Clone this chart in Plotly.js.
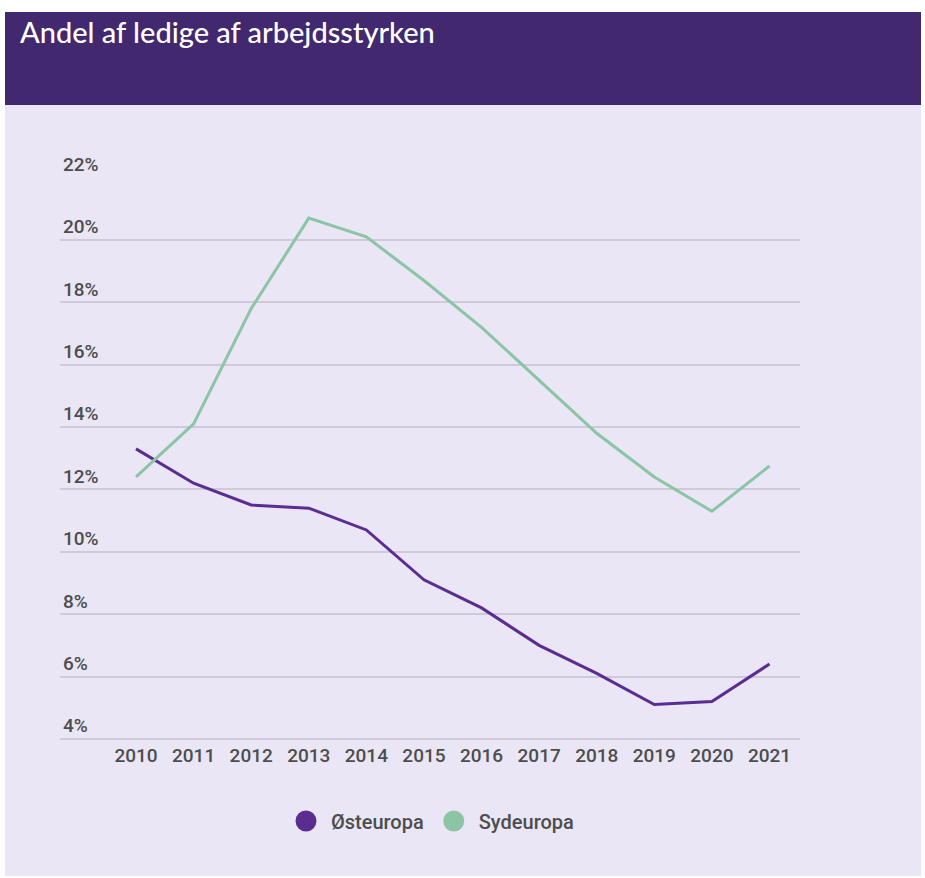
<!DOCTYPE html>
<html>
<head>
<meta charset="utf-8">
<script src="https://cdn.plot.ly/plotly-3.0.1.min.js"></script>
<style>
  html, body { margin: 0; padding: 0; background: #ffffff; }
  #chart { width: 925px; height: 878px; }
</style>
</head>
<body>
<div id="chart"></div>
<script>
// ---- Data ----
const years = [2010, 2011, 2012, 2013, 2014, 2015, 2016, 2017, 2018, 2019, 2020, 2021];
const ostEuropa = [13.3, 12.2, 11.5, 11.4, 10.7, 9.1, 8.2, 7.0, 6.1, 5.1, 5.2, 6.4];
const sydEuropa = [12.4, 14.1, 17.8, 20.7, 20.1, 18.7, 17.2, 15.5, 13.8, 12.4, 11.3, 12.75];
const seriesNames = ['Østeuropa', 'Sydeuropa'];
const yTickVals = [4, 6, 8, 10, 12, 14, 16, 18, 20, 22];
const yTickText = ['4%', '6%', '8%', '10%', '12%', '14%', '16%', '18%', '20%', '22%'];
const titleText = 'Andel af ledige af arbejdsstyrken';

// ---- Styles ----
const colPurple = '#5b2d90';
const colGreen = '#8cc5a5';
const textCol = '#4d4d4d';
const W = 925, H = 878;
const M = { l: 60, r: 125, t: 177, b: 136 };
const pw = W - M.l - M.r, ph = H - M.t - M.b;
const px = v => (v - M.l) / pw;
const py = v => (H - M.b - v) / ph;
const tickFont = { family: 'Roboto, sans-serif', size: 19, color: textCol, weight: 500 };

const traces = [
  { x: years, y: ostEuropa, name: seriesNames[0], type: 'scatter', mode: 'lines',
    line: { color: colPurple, width: 3 }, showlegend: false },
  { x: years, y: sydEuropa, name: seriesNames[1], type: 'scatter', mode: 'lines',
    line: { color: colGreen, width: 3 }, showlegend: false },
  { x: [null], y: [null], name: seriesNames[0], type: 'scatter', mode: 'markers',
    marker: { color: colPurple, size: 16, line: { color: colPurple, width: 5 } }, showlegend: true },
  { x: [null], y: [null], name: seriesNames[1], type: 'scatter', mode: 'markers',
    marker: { color: colGreen, size: 16, line: { color: colGreen, width: 5 } }, showlegend: true }
];

const layout = {
  width: W, height: H,
  margin: M,
  paper_bgcolor: '#ffffff',
  plot_bgcolor: 'rgba(0,0,0,0)',
  font: tickFont,
  title: {
    text: titleText,
    font: { family: 'Lato, sans-serif', size: 29, color: '#ffffff' },
    xref: 'container', x: 20 / W, xanchor: 'left',
    yref: 'container', y: 1 - 33 / H, yanchor: 'middle'
  },
  xaxis: {
    range: [2008.68, 2021.53],
    tickmode: 'array', tickvals: years, ticktext: years.map(String),
    showgrid: false, zeroline: false, showline: false, ticks: '',
    tickfont: tickFont,
    fixedrange: true
  },
  yaxis: {
    range: [3.9, 22.02],
    tickmode: 'array', tickvals: yTickVals, ticktext: yTickText,
    ticklabelposition: 'inside top', ticklabeloverflow: 'allow',
    showgrid: true, gridcolor: '#cfc9da', gridwidth: 2,
    zeroline: false, showline: false, ticks: '',
    tickfont: tickFont,
    fixedrange: true
  },
  legend: {
    orientation: 'h', x: 0.5, xanchor: 'center', y: py(821), yanchor: 'middle',
    font: { family: 'Roboto, sans-serif', size: 20, color: textCol, weight: 500 },
    itemwidth: 40,
    bgcolor: 'rgba(0,0,0,0)'
  },
  shapes: [
    { type: 'rect', xref: 'paper', yref: 'paper', layer: 'below',
      x0: px(5), x1: px(921), y0: py(876), y1: py(105),
      fillcolor: '#eae6f5', line: { width: 0 } },
    { type: 'rect', xref: 'paper', yref: 'paper', layer: 'below',
      x0: px(5), x1: px(921), y0: py(105), y1: py(12),
      fillcolor: '#42286e', line: { width: 0 } }
  ],
  hovermode: false
};

Plotly.newPlot('chart', traces, layout, { displayModeBar: false, staticPlot: true });
</script>
</body>
</html>
